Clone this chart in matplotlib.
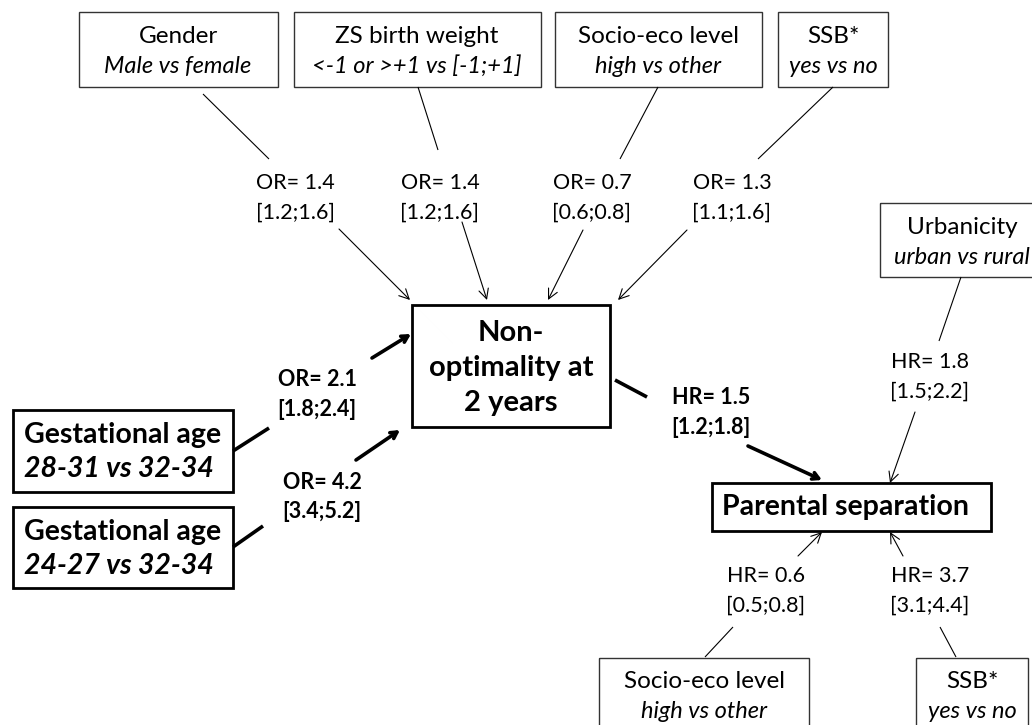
import matplotlib
matplotlib.use("Agg")
import matplotlib.pyplot as plt
from matplotlib.patches import Rectangle

plt.rcParams["font.family"] = ["Lato", "DejaVu Sans"]

# data: each path from predictor to outcome
PREDICTORS = ["Gender", "ZS birth weight", "Socio-eco level", "SSB*",
              "Gestational age", "Gestational age",
              "Non-optimality", "Urbanicity", "Socio-eco level", "SSB*"]
CONTRASTS = ["Male vs female", "<-1 or >+1 vs [-1;+1]", "high vs other", "yes vs no",
             "28-31 vs 32-34", "24-27 vs 32-34",
             "", "urban vs rural", "high vs other", "yes vs no"]
MEASURE = ["OR", "OR", "OR", "OR", "OR", "OR", "HR", "HR", "HR", "HR"]
ESTIMATE = [1.4, 1.4, 0.7, 1.3, 2.1, 4.2, 1.5, 1.8, 0.6, 3.7]
CI_LOW = [1.2, 1.2, 0.6, 1.1, 1.8, 3.4, 1.2, 1.5, 0.5, 3.1]
CI_HIGH = [1.6, 1.6, 0.8, 1.6, 2.4, 5.2, 1.8, 2.2, 0.8, 4.4]
BOLD_PATH = [False, False, False, False, True, True, True, False, False, False]

OUTCOME_1 = "Non-\noptimality at\n2 years"
OUTCOME_2 = "Parental separation"

# layout in pixel coordinates (x right, y down)
# box for each predictor (x0, y0, x1, y1), None for the outcome box
BOXES = [(79, 12, 278, 87), (294, 12, 541, 87), (555, 12, 762, 87), (778, 12, 888, 87),
         (13, 410, 233, 492), (13, 507, 233, 588),
         None, (880, 203, 1040, 277), (599, 658, 809, 740), (916, 658, 1028, 740)]
TEXT_CX = [178, 417, 658, 833, None, None, None, 962, 704, 972]
TAILS = [((203, 94), (269, 159)), ((418, 87), (438, 150)), ((658, 87), (620, 159)),
         ((833, 87), (758, 159)), ((233, 451), (269, 428)), ((233, 547), (263, 526)),
         ((615, 380), (647, 397)), ((961, 277), (939, 341)), ((705, 657), (733, 627)),
         ((956, 657), (940, 627))]
HEADS = [((339, 229), (410, 300)), ((462, 222), (487, 300)), ((583, 230), (548, 300)),
         ((687, 230), (618, 300)), ((372, 358), (411, 334)), ((356, 460), (400, 430)),
         ((748, 446), (822, 480)), ((915, 412), (890, 483)), ((798, 556), (822, 532)),
         ((903, 556), (890, 532))]
LABEL_POS = [(295, 183), (440, 183), (592, 183), (732, 183), (317, 379), (322, 482),
             (711, 397), (930, 362), (766, 576), (930, 576)]

W, H = 1032, 725
fig = plt.figure(figsize=(W / 100, H / 100), dpi=100)
ax = fig.add_axes([0, 0, 1, 1])
ax.set_xlim(0, W)
ax.set_ylim(H, 0)
ax.axis("off")

# outcome boxes
ax.add_patch(Rectangle((412, 305), 198, 122, fill=False, edgecolor="black", linewidth=2, zorder=2))
for i, line in enumerate(OUTCOME_1.split("\n")):
    ax.text(511, 333 + i * 35, line, ha="center", va="center", fontsize=21,
            fontweight="bold")
ax.add_patch(Rectangle((712, 483), 279, 48, fill=False, edgecolor="black", linewidth=2, zorder=2))
ax.text(846, 507, OUTCOME_2, ha="center", va="center", fontsize=20.5, fontweight="bold")

for i in range(len(PREDICTORS)):
    bold = BOLD_PATH[i]
    lw = 2.6 if bold else 0.8
    weight = "bold" if bold else "normal"

    box = BOXES[i]
    if box is not None:
        x0, y0, x1, y1 = box
        if PREDICTORS[i] == "Gestational age":
            ax.add_patch(Rectangle((x0, y0), x1 - x0, y1 - y0, fill=False,
                                   edgecolor="black", linewidth=2, zorder=2))
            ax.text(x0 + 11, y0 + 25, PREDICTORS[i], ha="left", va="center",
                    fontsize=20.5, fontweight="bold")
            ax.text(x0 + 11, y0 + 59, CONTRASTS[i], ha="left", va="center",
                    fontsize=20.5, fontweight="bold", style="italic")
        else:
            ax.add_patch(Rectangle((x0, y0), x1 - x0, y1 - y0, fill=False,
                                   edgecolor="#333333", linewidth=1.0, zorder=2))
            cx = TEXT_CX[i]
            ax.text(cx, y0 + 24, PREDICTORS[i], ha="center", va="center", fontsize=17.5)
            ax.text(cx, y0 + 54, CONTRASTS[i], ha="center", va="center", fontsize=17,
                    style="italic")

    (tx0, ty0), (tx1, ty1) = TAILS[i]
    ax.plot([tx0, tx1], [ty0, ty1], color="black", linewidth=lw, solid_capstyle="butt")

    (hx0, hy0), (hx1, hy1) = HEADS[i]
    head = "->,head_length=0.45,head_width=0.25" if bold else "->,head_length=0.7,head_width=0.35"
    ax.annotate("", xy=(hx1, hy1), xytext=(hx0, hy0),
                arrowprops=dict(arrowstyle=head, color="black", linewidth=lw,
                                shrinkA=0, shrinkB=0))

    lx, ly = LABEL_POS[i]
    ax.text(lx, ly, f"{MEASURE[i]}= {ESTIMATE[i]:.1f}", ha="center", va="center",
            fontsize=15.5 if bold else 15.5, fontweight=weight)
    ax.text(lx, ly + 30, f"[{CI_LOW[i]:.1f};{CI_HIGH[i]:.1f}]", ha="center", va="center",
            fontsize=15.5, fontweight=weight)

fig.savefig("out.png", dpi=100, facecolor="white")
